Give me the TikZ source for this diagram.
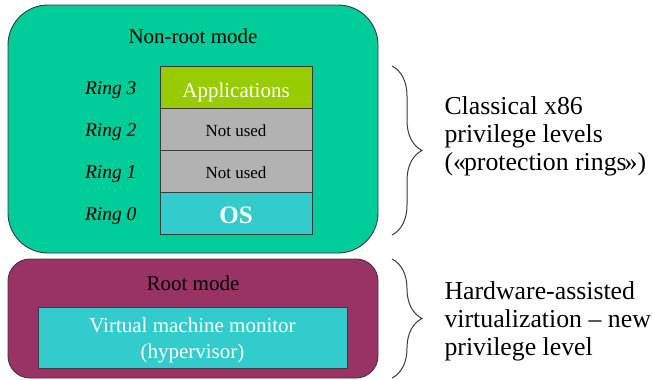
\documentclass[tikz,border=0pt]{standalone}
\usepackage{fontspec}
\setmainfont{Liberation Serif}
\usetikzlibrary{decorations.pathreplacing}
\definecolor{nonrootc}{HTML}{00CC99}
\definecolor{rootc}{HTML}{993366}
\definecolor{appc}{HTML}{99CC00}
\definecolor{grayc}{HTML}{B2B2B2}
\definecolor{osc}{HTML}{33CCCC}
\definecolor{edgec}{HTML}{3A3A3A}
\tikzset{
  modebox/.style={draw=edgec, line width=0.9pt, minimum width=370pt, inner sep=0pt},
  ringbox/.style={draw=edgec, line width=0.9pt, minimum width=152pt, minimum height=42pt, inner sep=0pt, text depth=0pt},
  ringlabel/.style={anchor=base east, font=\fontsize{19.5}{22}\selectfont\itshape},
  bigtext/.style={anchor=base, font=\fontsize{21}{24}\selectfont},
  sidetext/.style={anchor=west, align=left, font=\fontsize{25.8}{28}\selectfont},
  bracestyle/.style={draw=edgec, line width=1pt, decorate, decoration={brace, amplitude=30pt, aspect=0.5}}
}
\begin{document}
\begin{tikzpicture}[x=1pt,y=-1pt]
\useasboundingbox (0,0) rectangle (653,380);
\node[modebox, fill=nonrootc, rounded corners=40pt, minimum height=248pt] (nonroot) at (193,129) {};
\node[modebox, fill=rootc, rounded corners=22pt, minimum height=119pt] (root) at (193,318.5) {};
\node[bigtext] (nonrootlbl) at (193,43) {Non-root mode};
\node[bigtext] (rootlbl) at (193,290) {Root mode};
\node[ringbox, fill=appc, text=white, text height=20pt, font=\fontsize{21}{24}\selectfont] (app) at (236,87) {Applications};
\node[ringbox, fill=grayc, text height=14pt, font=\fontsize{17}{20}\selectfont] (r2) at (236,129) {Not used};
\node[ringbox, fill=grayc, text height=14pt, font=\fontsize{17}{20}\selectfont] (r1) at (236,171) {Not used};
\node[ringbox, fill=osc, text=white, text height=21pt, font=\fontsize{25}{28}\selectfont\bfseries] (os) at (236,213) {OS};
\node[ringlabel] (l3) at (140,94) {Ring 3};
\node[ringlabel] (l2) at (140,136) {Ring 2};
\node[ringlabel] (l1) at (140,178) {Ring 1};
\node[ringlabel] (l0) at (140,220) {Ring 0};
\node[draw=edgec, line width=0.9pt, fill=osc, minimum width=309pt, minimum height=61pt, inner sep=0pt] (vmm) at (192.5,337.5) {};
\node[text=white, align=center, font=\fontsize{21}{26}\selectfont, yshift=-2.5pt] (vmmtxt) at (vmm.center) {Virtual machine monitor\\(hypervisor)};
\coordinate (b1t) at (392,66);
\coordinate (b1b) at (392,235);
\coordinate (b2t) at (392,259);
\coordinate (b2b) at (392,378);
\draw[bracestyle] (b1t) -- (b1b);
\draw[bracestyle] (b2t) -- (b2b);
\node[sidetext] (txt1) at (441,136) {Classical x86\\privilege levels\\(«\kern-2pt protection rings\kern-2pt»)};
\node[sidetext] (txt2) at (441,321) {Hardware-assisted\\virtualization – new\\privilege level};
\end{tikzpicture}
\end{document}
